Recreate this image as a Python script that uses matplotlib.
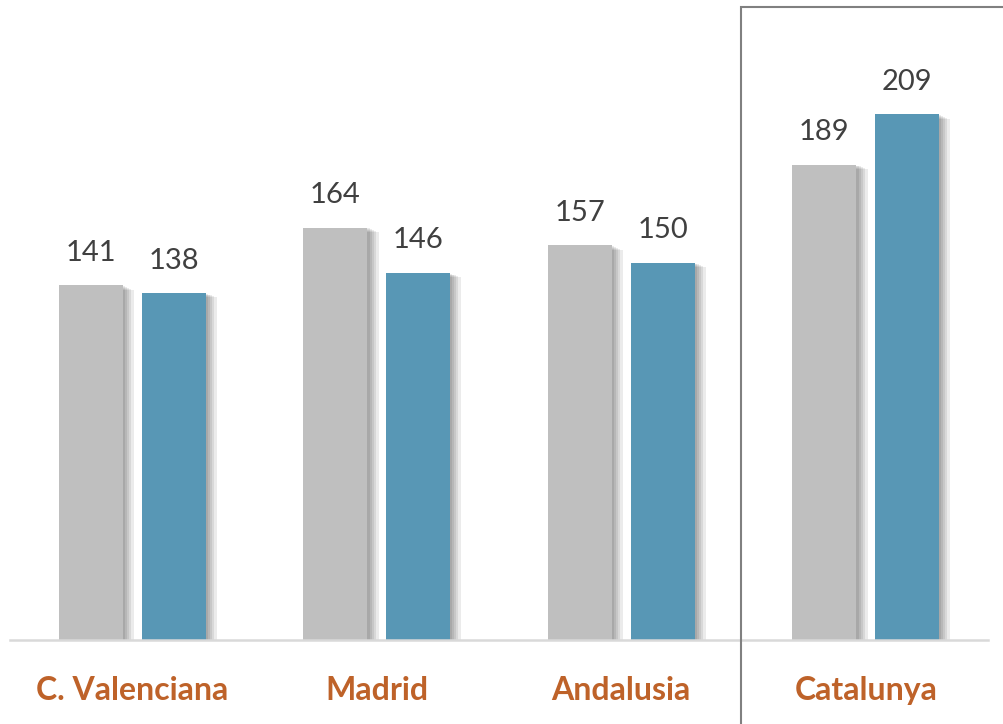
import matplotlib
matplotlib.use('Agg')
import matplotlib.pyplot as plt
import matplotlib.patheffects as pe
from matplotlib.patches import Rectangle
import numpy as np

regions = ["C. Valenciana", "Madrid", "Andalusia", "Catalunya"]
serie_gris = [141, 164, 157, 189]
serie_azul = [138, 146, 150, 209]

plt.rcParams["font.family"] = ["Lato", "DejaVu Sans"]

fig = plt.figure(figsize=(10.04, 7.24), dpi=100)
ax = fig.add_axes([10 / 1004, 84 / 724, 978 / 1004, 640 / 724])

x = np.arange(len(regions))
w = 0.262
off = 0.169

# soft shadow on the right of each bar
sombra = [pe.SimplePatchShadow(offset=(d, -d * 0.4), shadow_rgbFace='#000000', alpha=0.08)
          for d in (8, 6, 4.5, 3, 1.5)]
efectos = sombra + [pe.Normal()]

b1 = ax.bar(x - off, serie_gris, width=w, color='#BFBFBF', zorder=3)
b2 = ax.bar(x + off, serie_azul, width=w, color='#5897B5', zorder=3)
for b in list(b1) + list(b2):
    b.set_path_effects(efectos)

for bars, vals in ((b1, serie_gris), (b2, serie_azul)):
    for b, v in zip(bars, vals):
        ax.annotate(str(v), (b.get_x() + b.get_width() / 2, v),
                    xytext=(0, 14), textcoords='offset points',
                    ha='center', va='bottom', fontsize=21, color='#404040')

ax.set_xlim(-0.5, 3.5)
ax.set_ylim(0, 254.5)
ax.set_yticks([])
ax.set_xticks(x)
ax.set_xticklabels(regions, fontsize=23, fontweight='bold', color='#BE6229')
ax.tick_params(axis='x', length=0, pad=26)
for s in ['top', 'right', 'left']:
    ax.spines[s].set_visible(False)
ax.spines['bottom'].set_color('#D9D9D9')
ax.spines['bottom'].set_linewidth(1.8)
ax.spines['bottom'].set_zorder(4)

# highlight box around Catalunya
fig.patches.append(Rectangle((741 / 1004, -0.05), 0.5, 1.05 - 7 / 724,
                             transform=fig.transFigure, fill=False,
                             edgecolor='#808080', linewidth=1.5))

fig.savefig('out.png', dpi=100)
